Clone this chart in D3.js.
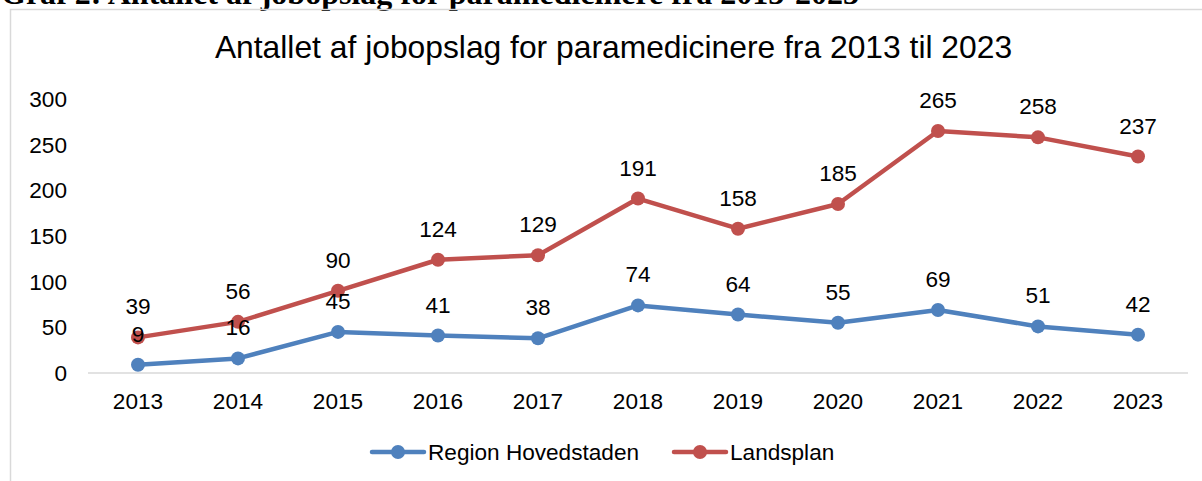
<!DOCTYPE html>
<html>
<head>
<meta charset="utf-8">
<script src="https://cdn.jsdelivr.net/npm/d3@7"></script>
<style>
  html, body { margin: 0; padding: 0; background: #fff; overflow: hidden; }
  svg { display: block; font-family: "Liberation Sans", Arial, sans-serif; }
</style>
</head>
<body>
<div id="chart"></div>
<script>
/* Graf 2 – jobopslag for paramedicinere */
const years = ["2013","2014","2015","2016","2017","2018","2019","2020","2021","2022","2023"];
const hovedstaden = [9, 16, 45, 41, 38, 74, 64, 55, 69, 51, 42];
const landsplan = [39, 56, 90, 124, 129, 191, 158, 185, 265, 258, 237];
const yTicks = [0, 50, 100, 150, 200, 250, 300];
const seriesNames = ["Region Hovedstaden", "Landsplan"];

const W = 1202, H = 481;
const M = { t: 99, r: 14, b: 108, l: 88 };
const FS = 22.6;
const svg = d3.select("#chart").append("svg").attr("width", W).attr("height", H);

/* overskrift over figuren (delvist afskåret i originalen) */
svg.append("text").attr("x", 1).attr("y", 4)
  .attr("font-family", "'Liberation Serif', 'DejaVu Serif', serif")
  .attr("font-weight", "bold").attr("font-size", 32).attr("fill", "#000")
  .attr("textLength", 858).attr("lengthAdjust", "spacingAndGlyphs")
  .text("Graf 2: Antallet af jobopslag for paramedicinere fra 2013-2023");

/* ramme */
svg.append("rect").attr("x", 10.5).attr("y", 9.5).attr("width", W + 20).attr("height", H + 20)
  .attr("fill", "none").attr("stroke", "#d9d9d9").attr("stroke-width", 1.5);

svg.append("text").attr("x", 613.5).attr("y", 58).attr("text-anchor", "middle")
  .attr("font-size", 31.8).attr("fill", "#000")
  .text("Antallet af jobopslag for paramedicinere fra 2013 til 2023");

const x = d3.scaleBand().domain(years).range([M.l, W - M.r]);
const y = d3.scaleLinear().domain([0, 300]).range([H - M.b, M.t]);

/* akser */
svg.append("line").attr("x1", M.l).attr("x2", W - M.r)
  .attr("y1", y(0)).attr("y2", y(0)).attr("stroke", "#d9d9d9").attr("stroke-width", 1.5);
svg.append("g").selectAll("text").data(yTicks).join("text")
  .attr("x", 67).attr("y", d => y(d) + 8).attr("text-anchor", "end")
  .attr("font-size", FS).attr("fill", "#000").text(d => d);
svg.append("g").selectAll("text").data(years).join("text")
  .attr("x", d => x(d) + x.bandwidth() / 2).attr("y", 409).attr("text-anchor", "middle")
  .attr("font-size", FS).attr("fill", "#000").text(d => d);

const cx = (d, i) => x(years[i]) + x.bandwidth() / 2;
const line = d3.line().x(cx).y(d => y(d));
const series = [
  { name: seriesNames[0], values: hovedstaden, color: "#4f81bd" },
  { name: seriesNames[1], values: landsplan, color: "#c0504d" }
];

series.forEach(s => {
  svg.append("path").attr("d", line(s.values)).attr("fill", "none")
    .attr("stroke", s.color).attr("stroke-width", 4.5).attr("stroke-linejoin", "round");
  svg.append("g").selectAll("circle").data(s.values).join("circle")
    .attr("cx", cx).attr("cy", d => y(d)).attr("r", 7).attr("fill", s.color);
});
/* dataetiketter */
series.forEach(s => {
  svg.append("g").selectAll("text").data(s.values).join("text")
    .attr("x", cx).attr("y", d => y(d) - 23).attr("text-anchor", "middle")
    .attr("font-size", FS).attr("fill", "#000").text(d => d);
});

/* forklaring */
const leg = [{ x: 372, s: series[0] }, { x: 674, s: series[1] }];
leg.forEach(l => {
  const g = svg.append("g").attr("transform", `translate(${l.x},452)`);
  g.append("line").attr("x1", 0).attr("x2", 52).attr("stroke", l.s.color)
    .attr("stroke-width", 4.5).attr("stroke-linecap", "round");
  g.append("circle").attr("cx", 26).attr("r", 7).attr("fill", l.s.color);
  g.append("text").attr("x", 56).attr("y", 8).attr("font-size", FS).attr("fill", "#000").text(l.s.name);
});
</script>
</body>
</html>
